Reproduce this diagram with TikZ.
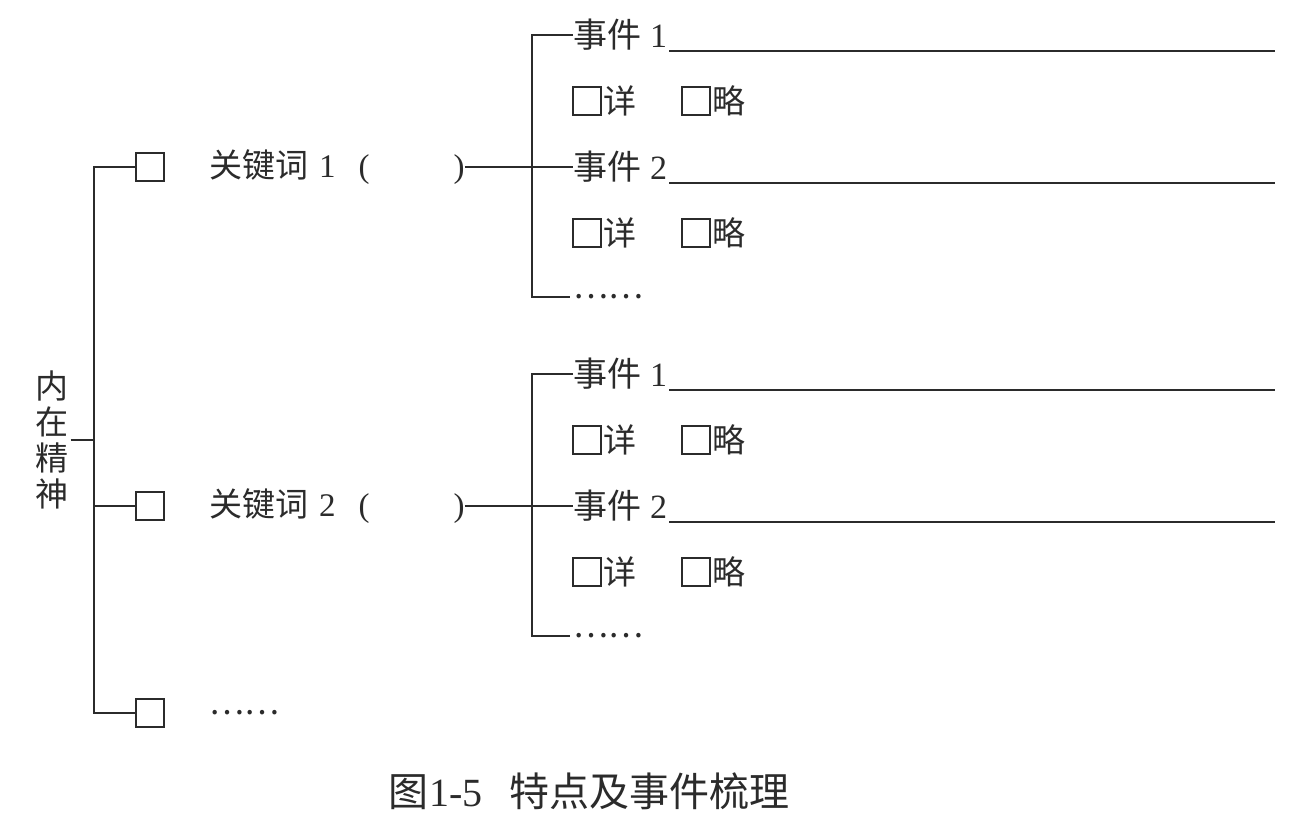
\documentclass[tikz,border=0pt]{standalone}
\usepackage{fontspec}
\setmainfont{Liberation Serif}
\newfontfamily\cjk{Noto Sans CJK SC}
\definecolor{ink}{HTML}{2B2B2B}
\tikzset{
  ln/.style={line width=1.5pt, draw=ink},
  chk/.style={draw=ink, line width=1.4pt, minimum size=28pt, inner sep=0pt, fill=white},
  lab/.style={inner sep=0pt, text=ink, font=\cjk\fontsize{33}{36}\selectfont},
  ev/.style={inner sep=0pt, text=ink, font=\cjk\fontsize{34}{38}\selectfont},
  vlab/.style={inner sep=2pt, text=ink, align=center, font=\cjk\fontsize{33}{36}\selectfont},
  caplab/.style={inner sep=0pt, text=ink, font=\cjk\fontsize{40}{44}\selectfont}
}
\begin{document}
\begin{tikzpicture}[x=1pt,y=-1pt]
\useasboundingbox (0,0) rectangle (1308,819);
\fill[white] (0,0) rectangle (1308,819);
\coordinate (sp) at (94,0);
\coordinate (esp) at (532,0);
\coordinate (rend) at (1275,0);
% root
\node[vlab] (root) at (52,440) {内\\在\\精\\神};
% first-level boxes
\node[chk] (b1) at (150,167) {};
\node[chk] (b2) at (150,506) {};
\node[chk] (b3) at (150,713) {};
\node[lab,anchor=west] (k3) at (209,713) {……};
\draw[ln] (root.east) -- (root.east -| sp);
\draw[ln] (b1.west) -- (b1.west -| sp) -- (b3.west -| sp) -- (b3.west);
\draw[ln] (b2.west) -- (b2.west -| sp);
% two keyword groups
\foreach \g/\yo in {1/0,2/339}{
  \node[lab,anchor=west] (k\g) at (209,\yo+167) {关键词\hspace{11pt}{\rmfamily\g}\hspace{23pt}{\rmfamily(}\hspace{84pt}{\rmfamily)}};
  \node[ev,anchor=west] (ea\g) at (573,\yo+35) {事件\hspace{9pt}{\rmfamily 1}};
  \node[chk] (xa\g) at (587,\yo+101) {};
  \node[lab,anchor=west] (xat\g) at ([xshift=2pt]xa\g.east) {详};
  \node[chk] (la\g) at (696,\yo+101) {};
  \node[lab,anchor=west] (lat\g) at ([xshift=2pt]la\g.east) {略};
  \node[ev,anchor=west] (eb\g) at (573,\yo+167) {事件\hspace{9pt}{\rmfamily 2}};
  \node[chk] (xb\g) at (587,\yo+233) {};
  \node[lab,anchor=west] (xbt\g) at ([xshift=2pt]xb\g.east) {详};
  \node[chk] (lb\g) at (696,\yo+233) {};
  \node[lab,anchor=west] (lbt\g) at ([xshift=2pt]lb\g.east) {略};
  \node[lab,anchor=west] (ed\g) at (573,\yo+297) {……};
  \draw[ln] (ea\g.west) -- (ea\g.west -| esp) -- (ed\g.west -| esp) -- ([xshift=-3pt]ed\g.west);
  \draw[ln] (k\g.east) -- (eb\g.west);
  \draw[ln] ([xshift=2pt,yshift=-3pt]ea\g.base east) -- ([yshift=-3pt]ea\g.base east -| rend);
  \draw[ln] ([xshift=2pt,yshift=-3pt]eb\g.base east) -- ([yshift=-3pt]eb\g.base east -| rend);
}
% caption
\node[caplab] (cap) at (589,791) {图\hspace{1pt}{\rmfamily\fontsize{40}{44}\selectfont 1-5}\hspace{27pt}特点及事件梳理};
\end{tikzpicture}
\end{document}
